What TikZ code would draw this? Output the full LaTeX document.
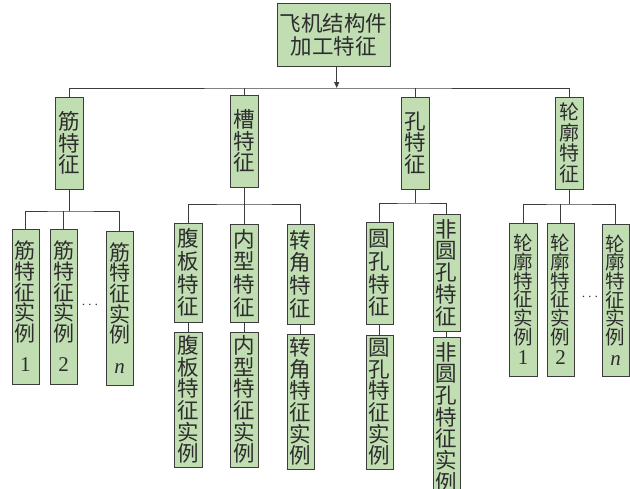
\documentclass[tikz,border=0pt]{standalone}
\usepackage{fontspec}
\setmainfont{Liberation Serif}
\newfontfamily\cjk{Noto Sans CJK SC}
\usetikzlibrary{arrows.meta}
\definecolor{boxfill}{RGB}{192,222,178}
\definecolor{boxline}{RGB}{60,60,60}
\definecolor{txt}{RGB}{45,45,45}
\tikzset{
  box/.style={draw=boxline, fill=boxfill, line width=1pt, inner sep=0pt,
    align=center, text=txt, font=\cjk\fontsize{21.5}{21.7}\selectfont},
  fs/.style 2 args={font=\cjk\fontsize{#1}{#2}\selectfont},
  conn/.style={draw=boxline, line width=0.8pt},
  dots/.style={text=txt, inner sep=0pt, font=\fontsize{14}{14}\selectfont}
}
\begin{document}
\begin{tikzpicture}[x=1pt,y=-1pt]
\useasboundingbox (0,0) rectangle (630,488);
% top
\node[box, minimum width=113pt, minimum height=63pt, fs={21.5}{23}] (top) at (333.5,35) {飞机结构件\\加工特征};
% level 2
\node[box, minimum width=28pt, minimum height=92pt] (jin) at (69,143) {筋\\特\\征};
\node[box, minimum width=28pt, minimum height=92pt] (cao) at (244,141) {槽\\特\\征};
\node[box, minimum width=28pt, minimum height=92pt] (kong) at (415,143) {孔\\特\\征};
\node[box, minimum width=28pt, minimum height=92pt, fs={20}{20.5}] (lun) at (569,143) {轮\\廓\\特\\征};
% jin group
\node[box, minimum width=27pt, minimum height=155pt, fs={21}{20.6}] (j1) at (25.5,306.5) {筋\\特\\征\\实\\例\\[10pt]{\rmfamily 1}};
\node[box, minimum width=27pt, minimum height=155pt, fs={21}{20.6}] (j2) at (63.5,306.5) {筋\\特\\征\\实\\例\\[10pt]{\rmfamily 2}};
\node[box, minimum width=27pt, minimum height=154pt, fs={21}{20.6}] (jn) at (119.5,308) {筋\\特\\征\\实\\例\\[10pt]{\rmfamily\itshape n}};
\node[dots] (jd) at (90,305) {$\cdots$};
% cao group
\node[box, minimum width=28pt, minimum height=99pt, fs={21.5}{22.7}] (fb) at (188,272.5) {腹\\板\\特\\征};
\node[box, minimum width=28pt, minimum height=135pt] (fbi) at (188,399.5) {腹\\板\\特\\征\\实\\例};
\node[box, minimum width=28pt, minimum height=98pt, fs={21.5}{22.7}] (nx) at (244,273) {内\\型\\特\\征};
\node[box, minimum width=28pt, minimum height=135pt] (nxi) at (244,399.5) {内\\型\\特\\征\\实\\例};
\node[box, minimum width=27pt, minimum height=100pt, fs={21.5}{22.7}] (zj) at (300.5,274) {转\\角\\特\\征};
\node[box, minimum width=27pt, minimum height=135pt] (zji) at (300.5,401.5) {转\\角\\特\\征\\实\\例};
% kong group
\node[box, minimum width=27pt, minimum height=102pt, fs={21.5}{22.7}] (yk) at (379.5,273) {圆\\孔\\特\\征};
\node[box, minimum width=27pt, minimum height=134pt] (yki) at (379.5,402) {圆\\孔\\特\\征\\实\\例};
\node[box, minimum width=27pt, minimum height=117pt] (fy) at (446.5,272.5) {非\\圆\\孔\\特\\征};
\node[box, minimum width=27pt, minimum height=160pt] (fyi) at (446.5,417) {非\\圆\\孔\\特\\征\\实\\例};
% lunkuo group
\node[box, minimum width=28pt, minimum height=153pt, fs={19.5}{18.7}] (l1) at (523,299.5) {轮\\廓\\特\\征\\实\\例\\[2pt]{\rmfamily\fontsize{21}{21}\selectfont 1}};
\node[box, minimum width=27pt, minimum height=153pt, fs={19.5}{18.7}] (l2) at (560.5,299.5) {轮\\廓\\特\\征\\实\\例\\[2pt]{\rmfamily\fontsize{21}{21}\selectfont 2}};
\node[box, minimum width=27pt, minimum height=152pt, fs={19.5}{18.7}] (ln) at (615.5,300) {轮\\廓\\特\\征\\实\\例\\[2pt]{\rmfamily\itshape\fontsize{21}{21}\selectfont n}};
\node[dots] (ld) at (590,297) {$\cdots$};
% connectors top
\coordinate (tb) at (336.7,88);
\draw[conn, -{Triangle[length=6pt,width=5pt]}] (top.south -| tb) -- (tb);
\draw[conn] (jin.north) |- (tb) -| (lun.north);
\draw[conn] (cao.north) -- (cao.north |- tb);
\draw[conn] (kong.north) -- (kong.north |- tb);
% jin
\coordinate (jb) at (69,211);
\draw[conn] (jin.south) -- (jb);
\draw[conn] (j1.north) |- (jb) -| (jn.north);
\draw[conn] (j2.north) -- (j2.north |- jb);
% cao
\coordinate (cb) at (244,204);
\draw[conn] (cao.south) -- (cb);
\draw[conn] (fb.north) |- (cb) -| (zj.north);
\draw[conn] (nx.north) -- (nx.north |- cb);
\draw[conn] (fb.south) -- (fbi.north);
\draw[conn] (nx.south) -- (nxi.north);
\draw[conn] (zj.south) -- (zji.north);
% kong
\coordinate (kb) at (415,203);
\draw[conn] (kong.south) -- (kb);
\draw[conn] (yk.north) |- (kb) -| (fy.north);
\draw[conn] (yk.south) -- (yki.north);
\draw[conn] (fy.south) -- (fyi.north);
% lunkuo
\coordinate (lb) at (569,204);
\draw[conn] (lun.south) -- (lb);
\draw[conn] (l1.north) |- (lb) -| (ln.north);
\draw[conn] (l2.north) -- (l2.north |- lb);
\end{tikzpicture}
\end{document}
